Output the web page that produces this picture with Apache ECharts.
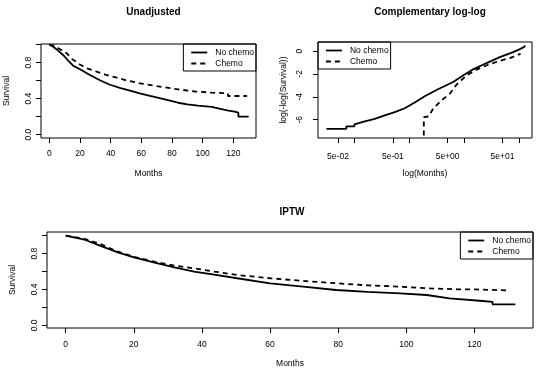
<!DOCTYPE html>
<html>
<head>
<meta charset="utf-8">
<script src="https://cdn.jsdelivr.net/npm/echarts@6/dist/echarts.min.js"></script>
<style>
html, body { margin: 0; padding: 0; background: #fff; }
#main { width: 554px; height: 380px; }
</style>
</head>
<body>
<div id="main"></div>
<script>
// Unadjusted Kaplan-Meier (months, survival)
const unadjNoMonths = [0, 2, 5, 9, 12, 15.7, 20, 26.5, 33, 39.6, 46, 52.6, 59, 65.7, 72, 78, 84, 90, 97, 106, 108, 116.8, 121, 123.3, 123.3, 130];
const unadjNoSurv = [1, 0.985, 0.945, 0.886, 0.83, 0.765, 0.728, 0.663, 0.605, 0.555, 0.52, 0.489, 0.458, 0.43, 0.405, 0.38, 0.355, 0.337, 0.322, 0.31, 0.30, 0.267, 0.255, 0.245, 0.2, 0.2];
const unadjChemoMonths = [0, 3, 7, 11.4, 15, 20, 25, 30.9, 37, 44, 51, 59.2, 70, 84, 95, 106, 116.5, 116.5, 129];
const unadjChemoSurv = [1, 0.99, 0.95, 0.904, 0.84, 0.78, 0.735, 0.70, 0.665, 0.633, 0.60, 0.571, 0.54, 0.504, 0.48, 0.467, 0.46, 0.43, 0.43];

// complementary log-log (months, log(-log(S)))
const cloNoMonths = [0.0307, 0.071, 0.071, 0.1, 0.1, 0.154, 0.234, 0.356, 0.542, 0.826, 1.256, 1.91, 3.13, 6.3, 9.57, 14.6, 25.6, 44.8, 78.5, 104, 123, 123, 130];
const cloNoVal = [-6.8, -6.8, -6.58, -6.58, -6.4, -6.15, -5.92, -5.63, -5.34, -5.0, -4.5, -3.95, -3.4, -2.71, -2.13, -1.6, -1.05, -0.53, -0.09, 0.17, 0.34, 0.48, 0.48];
const cloChemoMonths = [1.84, 1.84, 2.25, 2.71, 3.85, 5.47, 7.24, 11.0, 16.8, 25.6, 44.8, 68.2, 95, 107];
const cloChemoVal = [-7.38, -5.78, -5.72, -5.05, -4.32, -3.73, -2.95, -2.13, -1.63, -1.25, -0.85, -0.62, -0.35, -0.23];

// IPTW weighted curves
const iptwNoMonths = [0, 5.8, 10.6, 15.5, 20.3, 26.1, 31.9, 37.7, 43.6, 50.3, 60, 69.7, 79.4, 88.6, 98.2, 106, 112.7, 122.4, 125.3, 125.3, 132];
const iptwNoSurv = [1.0, 0.952, 0.88, 0.81, 0.755, 0.70, 0.647, 0.599, 0.565, 0.525, 0.469, 0.432, 0.394, 0.372, 0.357, 0.338, 0.301, 0.271, 0.262, 0.234, 0.234];
const iptwChemoMonths = [0, 5, 10, 15, 20, 26, 31.9, 37.7, 43.6, 50.3, 60, 69.7, 79.4, 89, 98, 106, 115, 120.5, 120.5, 130];
const iptwChemoSurv = [1.0, 0.97, 0.91, 0.825, 0.765, 0.71, 0.666, 0.636, 0.60, 0.562, 0.525, 0.495, 0.469, 0.445, 0.432, 0.413, 0.402, 0.40, 0.39, 0.39];

// tick labels
const monthTicks = [0, 20, 40, 60, 80, 100, 120];
const survTicks = [0, 0.2, 0.4, 0.6, 0.8, 1.0];
const survLabels = [0, 0.4, 0.8];
const logTicks = [0.05, 0.1, 0.5, 1, 5, 10, 50, 100];
const logLabels = [0.05, 0.5, 5, 50];
const clogTicks = [-6, -4, -2, 0];

const FONT = 'Liberation Sans, Arial, sans-serif';
const zip = (a, b) => a.map((v, i) => [v, b[i]]);

function sci(v) {
    let s = v.toExponential(0);
    let [m, e] = s.split('e');
    let sign = e[0];
    let d = e.slice(1);
    if (d.length < 2) d = '0' + d;
    return m + 'e' + sign + d;
}

function tick(values) {
    return { show: true, length: 5, inside: false, lineStyle: { color: '#000' }, customValues: values };
}

function xAx(idx, opt) {
    return Object.assign({
        gridIndex: idx,
        type: 'value',
        position: 'bottom',
        axisLine: { show: false, onZero: false },
        splitLine: { show: false },
        nameLocation: 'middle',
        nameGap: 31,
        nameTextStyle: { fontSize: 8.5, color: '#000', fontFamily: FONT }
    }, opt);
}

function yAx(idx, opt) {
    return Object.assign({
        gridIndex: idx,
        type: 'value',
        position: 'left',
        axisLine: { show: false, onZero: false },
        splitLine: { show: false },
        nameLocation: 'middle',
        nameGap: 30,
        nameTextStyle: { fontSize: 8.5, color: '#000', fontFamily: FONT }
    }, opt);
}

function line(name, data, x, y, dashed) {
    return {
        name: name,
        type: 'line',
        xAxisIndex: x,
        yAxisIndex: y,
        data: data,
        symbol: 'none',
        showSymbol: false,
        color: '#000',
        silent: true,
        animation: false,
        itemStyle: { color: '#000' },
        lineStyle: { color: '#000', width: 1.8, type: dashed ? [5, 4] : 'solid' }
    };
}

function legend(opt) {
    return Object.assign({
        orient: 'vertical',
        data: ['No chemo', 'Chemo'],
        borderColor: '#000',
        borderWidth: 1,
        borderRadius: 0,
        padding: [4, 2, 3, 7],
        itemWidth: 16,
        itemHeight: 8,
        itemGap: 2,
        selectedMode: false,
        itemStyle: { opacity: 0 },
        lineStyle: { color: '#000', width: 1.8 },
        textStyle: { fontSize: 8.5, color: '#000', fontFamily: FONT, padding: [0, 0, 0, 3] }
    }, opt);
}

let chart = echarts.init(document.getElementById('main'));

let option = {
    backgroundColor: '#fff',
    animation: false,
    title: [
        { text: 'Unadjusted', left: 148.5, top: 2, textAlign: 'center',
          textStyle: { fontSize: 10, fontWeight: 'bold', color: '#000', fontFamily: FONT } },
        { text: 'Complementary log-log', left: 425, top: 2, textAlign: 'center',
          textStyle: { fontSize: 10, fontWeight: 'bold', color: '#000', fontFamily: FONT } },
        { text: 'IPTW', left: 287, top: 202, textAlign: 'center',
          textStyle: { fontSize: 10, fontWeight: 'bold', color: '#000', fontFamily: FONT } }
    ],
    grid: [
        { left: 41, top: 44, width: 215, height: 94, show: true, borderColor: '#000', borderWidth: 1, backgroundColor: 'transparent' },
        { left: 318, top: 42, width: 214, height: 96, show: true, borderColor: '#000', borderWidth: 1, backgroundColor: 'transparent' },
        { left: 41, top: 232, width: 492, height: 96, show: true, borderColor: '#000', borderWidth: 1, backgroundColor: 'transparent' }
    ],
    legend: [
        legend({ right: 298, top: 44 }),
        legend({ left: 318, top: 42 }),
        legend({ right: 21, top: 232 })
    ],
    xAxis: [
        xAx(0, { min: -5.4, max: 134.8, name: 'Months',
            axisTick: tick(monthTicks),
            axisLabel: { fontSize: 8.5, color: '#000', fontFamily: FONT, margin: 11, customValues: monthTicks } }),
        xAx(1, { type: 'log', logBase: 10, min: 0.0216, max: 173, name: 'log(Months)',
            axisTick: tick(logTicks),
            axisLabel: { fontSize: 8.5, color: '#000', fontFamily: FONT, margin: 14, customValues: logLabels,
                formatter: v => sci(v) } }),
        xAx(2, { min: -5.5, max: 137.2, name: 'Months',
            axisTick: tick(monthTicks),
            axisLabel: { fontSize: 8.5, color: '#000', fontFamily: FONT, margin: 12, customValues: monthTicks } })
    ],
    yAxis: [
        yAx(0, { min: -0.037, max: 1.008, name: 'Survival',
            axisTick: tick(survTicks),
            axisLabel: { fontSize: 8.5, color: '#000', fontFamily: FONT, rotate: 90, margin: 8,
                customValues: survLabels, formatter: v => v.toFixed(1) } }),
        yAx(1, { min: -7.6, max: 0.79, name: 'log(-log(Survival))',
            axisTick: tick(clogTicks),
            axisLabel: { fontSize: 8.5, color: '#000', fontFamily: FONT, rotate: 90, margin: 14,
                customValues: clogTicks } }),
        yAx(2, { min: -0.03, max: 1.041, name: 'Survival',
            axisTick: tick(survTicks),
            axisLabel: { fontSize: 8.5, color: '#000', fontFamily: FONT, rotate: 90, margin: 8,
                customValues: survLabels, formatter: v => v.toFixed(1) } })
    ],
    series: [
        line('No chemo', zip(unadjNoMonths, unadjNoSurv), 0, 0, false),
        line('Chemo', zip(unadjChemoMonths, unadjChemoSurv), 0, 0, true),
        line('No chemo', zip(cloNoMonths, cloNoVal), 1, 1, false),
        line('Chemo', zip(cloChemoMonths, cloChemoVal), 1, 1, true),
        line('No chemo', zip(iptwNoMonths, iptwNoSurv), 2, 2, false),
        line('Chemo', zip(iptwChemoMonths, iptwChemoSurv), 2, 2, true)
    ]
};

chart.setOption(option);
</script>
</body>
</html>
